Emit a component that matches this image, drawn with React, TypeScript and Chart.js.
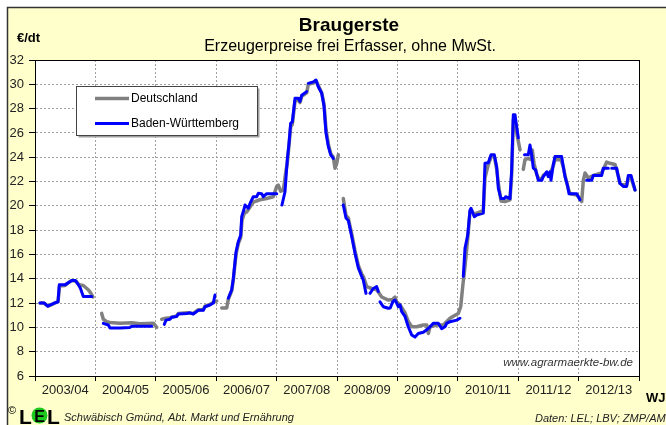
import React, { useEffect, useRef } from 'react';
import { Chart, registerables } from 'chart.js';

Chart.register(...registerables);

// Marketing years (WJ), x axis runs 0..10 in years from July 2003
const yearLabels = ['2003/04', '2004/05', '2005/06', '2006/07', '2007/08', '2008/09', '2009/10', '2010/11', '2011/12', '2012/13'];
const yMin = 6;
const yMax = 32;
const yStep = 2;

const titleText = 'Braugerste';
const subtitleText = 'Erzeugerpreise frei Erfasser, ohne MwSt.';
const unitText = '€/dt';
const axisText = 'WJ';
const webText = 'www.agrarmaerkte-bw.de';
const footerLeft = 'Schwäbisch Gmünd, Abt. Markt und Ernährung';
const footerRight = 'Daten: LEL; LBV; ZMP/AMI';
const seriesNames = ['Deutschland', 'Baden-Württemberg'];

// Deutschland (grey)
const deTime = [
  0.083, 0.149, 0.215, 0.281, 0.348, 0.381, 0.406, 0.497, 0.53, 0.608, 0.679, 0.728, 0.8, 0.882, 0.927, 0.96, 1.03,
  1.104, 1.131, 1.187, 1.242, 1.407, 1.601, 1.738, 1.959, 2.015, 2.05,
  2.098, 2.169, 2.235, 2.346, 2.373, 2.512, 2.621, 2.704, 2.786, 2.815, 2.897, 2.952, 3.008, 3.05,
  3.091, 3.174, 3.2, 3.257, 3.283, 3.328, 3.366, 3.406, 3.427, 3.465, 3.505, 3.56, 3.614, 3.725, 3.836, 3.945,
  4.002, 4.028, 4.068, 4.111, 4.156, 4.177, 4.205, 4.233, 4.26, 4.305, 4.359, 4.387, 4.416, 4.498, 4.525, 4.608,
  4.652, 4.69, 4.747, 4.785, 4.818, 4.856, 4.896, 4.939, 4.967, 4.995, 5.022, 5.06,
  5.104, 5.149, 5.187, 5.243, 5.298, 5.353, 5.409, 5.435, 5.492, 5.575, 5.657, 5.74, 5.849, 5.922, 5.96, 5.988,
  6.043, 6.126, 6.18, 6.237, 6.319, 6.429, 6.485, 6.512, 6.54, 6.651, 6.76, 6.871, 6.954, 7.008, 7.048, 7.081,
  7.119, 7.164, 7.202, 7.227, 7.273, 7.313, 7.422, 7.45, 7.505, 7.55, 7.604, 7.644, 7.671, 7.715, 7.781, 7.864,
  7.892, 7.919, 7.947, 7.975, 8.03, 8.06,
  8.084, 8.113, 8.167, 8.212, 8.233, 8.262, 8.306, 8.333, 8.389, 8.415, 8.472, 8.526, 8.581, 8.609, 8.709, 8.747,
  8.775, 8.829, 8.858, 8.969, 8.995, 9.051, 9.078, 9.106, 9.161, 9.243, 9.382, 9.465, 9.519, 9.603, 9.657, 9.685,
  9.796, 9.823, 9.868, 9.934,
];
const dePrice = [
  12.0, 12.0, 11.75, 11.9, 12.05, 12.1, 13.4, 13.45, 13.6, 13.85, 13.8, 13.5, 13.45, 13.1, 12.8, 12.5, null,
  11.15, 10.67, 10.47, 10.4, 10.35, 10.38, 10.3, 10.35, 10.0, null,
  10.67, 10.75, 10.8, 10.95, 11.15, 11.2, 11.15, 11.45, 11.45, 11.75, 11.9, 12.05, 12.17, null,
  11.6, 11.6, 12.3, 13.0, 13.9, 16.0, 16.9, 17.4, 18.8, 19.4, 19.5, 19.9, 20.3, 20.5, 20.6, 20.75,
  21.6, 21.7, 21.2, 21.3, 22.9, 23.5, 25.0, 26.5, 26.7, 28.6, 28.7, 28.5, 29.0, 29.3, 30.0, 30.1,
  30.3, 29.9, 29.3, 28.4, 26.3, 25.1, 24.3, 24.0, 23.1, 23.5, 24.2, null,
  20.6, 19.2, 19.0, 17.7, 16.3, 15.1, 14.4, 14.2, 13.35, 13.2, 13.1, 12.5, 12.25, 12.3, 12.5, 12.1,
  11.85, 11.2, 10.5, 10.05, 10.05, 10.2, 10.2, 9.5, 10.05, 10.2, 10.2, 10.75, 11.0, 11.15, 11.7, 13.35,
  15.0, 17.3, 19.5, 19.6, 19.3, 19.4, 19.6, 22.3, 23.4, 24.0, 24.1, 23.0, 21.85, 20.4, 20.35, 20.5,
  22.5, 27.1, 27.1, 26.0, 24.6, null,
  23.0, 23.8, 23.9, 23.8, 24.6, 23.5, 22.6, 22.3, 22.2, 22.5, 22.7, 22.6, 23.3, 23.8, 23.8, 23.2,
  22.5, 21.4, 21.0, 20.9, 20.75, 20.35, 22.1, 22.7, 22.3, 22.5, 22.7, 23.6, 23.5, 23.4, 22.5, 21.85,
  21.7, 22.3, 22.3, 21.3,
];

// Baden-Württemberg (blue)
const bwTime = [
  0.083, 0.154, 0.21, 0.276, 0.348, 0.381, 0.402, 0.497, 0.53, 0.608, 0.671, 0.72, 0.753, 0.8, 0.939, 1.0,
  1.131, 1.214, 1.242, 1.407, 1.573, 1.601, 1.932, 2.05,
  2.141, 2.169, 2.235, 2.263, 2.346, 2.373, 2.512, 2.566, 2.621, 2.704, 2.786, 2.815, 2.897, 2.952, 2.98, 3.1,
  3.2, 3.257, 3.283, 3.328, 3.366, 3.406, 3.422, 3.465, 3.477, 3.531, 3.56, 3.614, 3.671, 3.697, 3.753, 3.78, 3.836, 4.002, 4.05,
  4.089, 4.139, 4.177, 4.205, 4.233, 4.26, 4.305, 4.359, 4.387, 4.416, 4.498, 4.51,
  4.525, 4.608, 4.652, 4.69, 4.747, 4.785, 4.818, 4.856, 4.896, 4.939, 5.05,
  5.104, 5.149, 5.187, 5.243, 5.298, 5.353, 5.409, 5.435, 5.48, 5.51,
  5.546, 5.601, 5.657, 5.684, 5.7,
  5.712, 5.767, 5.849, 5.882, 5.922, 5.96, 5.988, 6.015, 6.043, 6.071, 6.126, 6.18, 6.237, 6.291, 6.346, 6.429,
  6.485, 6.54, 6.594, 6.677, 6.733, 6.788, 6.816, 6.871, 6.982, 7.036, 7.06,
  7.091, 7.119, 7.164, 7.202, 7.219, 7.273, 7.313, 7.422, 7.45, 7.505, 7.55, 7.604, 7.644, 7.671, 7.715, 7.77,
  7.793, 7.864, 7.892, 7.919, 7.947, 7.975, 8.002, 8.05,
  8.104, 8.167, 8.195, 8.223, 8.25, 8.29, 8.333, 8.389, 8.415, 8.472, 8.498, 8.526, 8.543, 8.581, 8.609, 8.72,
  8.747, 8.775, 8.82, 8.841, 8.969, 8.995, 9.023, 9.08,
  9.134, 9.217, 9.243, 9.382, 9.409, 9.492, 9.52,
  9.548, 9.631, 9.657, 9.685, 9.74, 9.796, 9.823, 9.868, 9.896, 9.934,
];
const bwPrice = [
  12.0, 12.0, 11.75, 11.9, 12.05, 12.1, 13.5, 13.5, 13.6, 13.85, 13.85, 13.5, 13.2, 12.55, 12.55, null,
  10.33, 10.2, 9.95, 9.95, 10.0, 10.1, 10.1, null,
  10.25, 10.6, 10.67, 10.83, 10.9, 11.1, 11.15, 11.2, 11.1, 11.4, 11.4, 11.7, 11.84, 12.0, 12.67, null,
  12.4, 13.1, 14.0, 16.2, 17.05, 17.6, 19.1, 19.8, 20.07, 19.8, 20.2, 20.75, 20.75, 21.03, 21.0, 20.75, 21.0, 21.0, null,
  20.07, 21.16, 23.8, 25.1, 26.8, 26.9, 28.85, 28.85, 28.6, 29.1, 29.4, null,
  30.08, 30.2, 30.35, 29.8, 29.26, 28.2, 26.0, 24.9, 24.2, 23.9, null,
  20.07, 19.0, 18.8, 17.5, 16.1, 14.9, 14.2, 13.9, 12.8, null,
  12.8, 13.2, 13.35, 12.95, null,
  12.1, 11.7, 11.57, 11.6, 12.1, 12.25, 12.0, 11.7, 11.85, 11.3, 10.9, 10.05, 9.37, 9.2, 9.5, 9.6,
  9.8, 10.05, 10.33, 10.33, 9.9, 10.05, 10.33, 10.47, 10.6, 10.75, null,
  14.2, 16.5, 17.6, 19.66, 19.8, 19.1, 19.25, 19.4, 23.5, 23.55, 24.2, 24.2, 23.2, 21.44, 20.6, 20.6,
  20.75, 20.6, 22.95, 27.5, 27.5, 26.5, 25.6, null,
  24.2, 24.2, 25.0, 24.2, 23.1, 22.95, 22.1, 22.1, 22.4, 22.8, 22.4, 22.8, 22.1, 23.4, 24.05, 24.05,
  23.2, 22.4, 21.6, 21.0, 21.0, 20.75, 20.5, null,
  22.1, 22.1, 22.5, 22.5, 23.1, 23.1, null,
  23.1, 23.1, 22.4, 21.85, 21.6, 21.6, 22.5, 22.5, 22.0, 21.3,
];

const FONT = '"Liberation Sans", Arial, Helvetica, sans-serif';
const DE_COLOR = '#808080';
const BW_COLOR = '#0000FF';

const toPoints = (xs: number[], ys: (number | null)[]) => xs.map((x, i) => ({ x, y: ys[i] }));

const decorPlugin = {
  id: 'decor',
  beforeDraw(chart: any) {
    const { ctx, chartArea: a, width, height } = chart;
    ctx.save();
    ctx.fillStyle = '#ffffff';
    ctx.fillRect(0, 0, width, height);
    ctx.fillStyle = '#FFFFCC';
    ctx.fillRect(7, 7, width - 7, height - 7);
    ctx.strokeStyle = '#333333';
    ctx.lineWidth = 1.5;
    ctx.beginPath();
    ctx.moveTo(7.5, height);
    ctx.lineTo(7.5, 7.5);
    ctx.lineTo(width, 7.5);
    ctx.stroke();
    ctx.fillStyle = '#ffffff';
    ctx.fillRect(a.left, a.top, a.right - a.left, a.bottom - a.top);
    ctx.restore();
  },
  afterDraw(chart: any) {
    const { ctx, chartArea: a } = chart;
    ctx.save();
    // plot frame
    ctx.strokeStyle = '#000';
    ctx.lineWidth = 1;
    ctx.strokeRect(Math.round(a.left) + 0.5, Math.round(a.top) + 0.5, Math.round(a.right - a.left), Math.round(a.bottom - a.top));

    // titles
    ctx.fillStyle = '#000';
    ctx.textAlign = 'center';
    ctx.textBaseline = 'alphabetic';
    ctx.font = `bold 19px ${FONT}`;
    ctx.fillText(titleText, 349, 31);
    ctx.font = `16px ${FONT}`;
    ctx.fillText(subtitleText, 350, 51);

    // unit and axis name
    ctx.textAlign = 'left';
    ctx.font = `bold 13px ${FONT}`;
    ctx.fillText(unitText, 17, 42);
    ctx.fillText(axisText, 646, 402);

    // website
    ctx.textAlign = 'right';
    ctx.fillStyle = '#333';
    ctx.font = `italic 11.5px ${FONT}`;
    ctx.fillText(webText, 633, 366);

    // legend
    const lx = 76.5, ly = 86.5, lw = 181, lh = 49;
    ctx.fillStyle = '#a0a0a0';
    ctx.fillRect(lx + 2, ly + 2, lw, lh);
    ctx.fillStyle = '#fff';
    ctx.fillRect(lx, ly, lw, lh);
    ctx.strokeStyle = '#444';
    ctx.lineWidth = 1;
    ctx.strokeRect(lx, ly, lw, lh);
    const entries = [
      { name: seriesNames[0], color: DE_COLOR, w: 3.5, y: 98.5 },
      { name: seriesNames[1], color: BW_COLOR, w: 3, y: 123.5 },
    ];
    ctx.textAlign = 'left';
    ctx.textBaseline = 'middle';
    ctx.font = `12px ${FONT}`;
    for (const e of entries) {
      ctx.strokeStyle = e.color;
      ctx.lineWidth = e.w;
      ctx.beginPath();
      ctx.moveTo(95, e.y);
      ctx.lineTo(129, e.y);
      ctx.stroke();
      ctx.fillStyle = '#000';
      ctx.fillText(e.name, 131, e.y);
    }

    // footer logo
    ctx.textBaseline = 'alphabetic';
    ctx.fillStyle = '#000';
    ctx.font = `11px ${FONT}`;
    ctx.fillText('©', 8, 414);
    ctx.font = `bold 21px ${FONT}`;
    ctx.fillText('L', 19, 424);
    ctx.fillStyle = '#1ec81e';
    ctx.beginPath();
    ctx.arc(39.5, 415.5, 8, 0, Math.PI * 2);
    ctx.fill();
    ctx.fillStyle = '#000';
    ctx.textAlign = 'center';
    ctx.font = `bold 16px ${FONT}`;
    ctx.fillText('E', 39.5, 421.5);
    ctx.textAlign = 'left';
    ctx.font = `bold 21px ${FONT}`;
    ctx.fillText('L', 47, 424);

    ctx.fillStyle = '#222';
    ctx.font = `italic 11px ${FONT}`;
    ctx.fillText(footerLeft, 64, 421);
    ctx.fillText(footerRight, 535, 422);
    ctx.restore();
  },
};

export default function App() {
  const ref = useRef<HTMLCanvasElement | null>(null);

  useEffect(() => {
    document.body.style.margin = '0';
    const canvas = ref.current;
    if (!canvas) return;
    const chart = new Chart(canvas, {
      type: 'line',
      data: {
        datasets: [
          {
            label: seriesNames[1],
            data: toPoints(bwTime, bwPrice),
            borderColor: BW_COLOR,
            backgroundColor: BW_COLOR,
            borderWidth: 3,
            pointRadius: 0,
            tension: 0,
            spanGaps: false,
            borderJoinStyle: 'round',
            borderCapStyle: 'round',
            order: 0,
          },
          {
            label: seriesNames[0],
            data: toPoints(deTime, dePrice),
            borderColor: DE_COLOR,
            backgroundColor: DE_COLOR,
            borderWidth: 3.5,
            pointRadius: 0,
            tension: 0,
            spanGaps: false,
            borderJoinStyle: 'round',
            borderCapStyle: 'round',
            order: 1,
          },
        ],
      },
      options: {
        animation: false,
        responsive: false,
        devicePixelRatio: 1,
        layout: { padding: { left: 0, right: 27, top: 60, bottom: 19 } },
        plugins: {
          legend: { display: false },
          title: { display: false },
          tooltip: { enabled: false },
        },
        scales: {
          x: {
            type: 'linear',
            min: 0,
            max: yearLabels.length,
            afterFit: (s: any) => { s.height = 30; },
            ticks: {
              stepSize: 0.5,
              autoSkip: false,
              maxRotation: 0,
              minRotation: 0,
              padding: 2,
              color: '#222',
              font: { family: FONT, size: 13 },
              callback: (v: any) => {
                const n = Number(v);
                return Number.isInteger(n) ? '' : yearLabels[Math.floor(n)];
              },
            },
            grid: {
              color: (c: any) => (Number.isInteger(c.tick?.value) ? '#a0a0a0' : 'rgba(0,0,0,0)'),
              tickColor: (c: any) => (Number.isInteger(c.tick?.value) ? '#000' : 'rgba(0,0,0,0)'),
              tickLength: 5,
              lineWidth: 1,
            },
            border: { color: '#000', width: 1, dash: [2, 2] },
          },
          y: {
            min: yMin,
            max: yMax,
            afterFit: (s: any) => { s.width = 35; },
            ticks: {
              stepSize: yStep,
              padding: 5,
              color: '#222',
              font: { family: FONT, size: 13 },
            },
            grid: {
              color: '#a0a0a0',
              tickColor: '#000',
              tickLength: 6,
              lineWidth: 1,
            },
            border: { color: '#000', width: 1, dash: [2, 2] },
          },
        },
      },
      plugins: [decorPlugin],
    } as any);
    return () => chart.destroy();
  }, []);

  return (
    <div style={{ position: 'fixed', left: 0, top: 0, width: 666, height: 425 }}>
      <canvas ref={ref} width={666} height={425} style={{ display: 'block', width: 666, height: 425 }} />
    </div>
  );
}
